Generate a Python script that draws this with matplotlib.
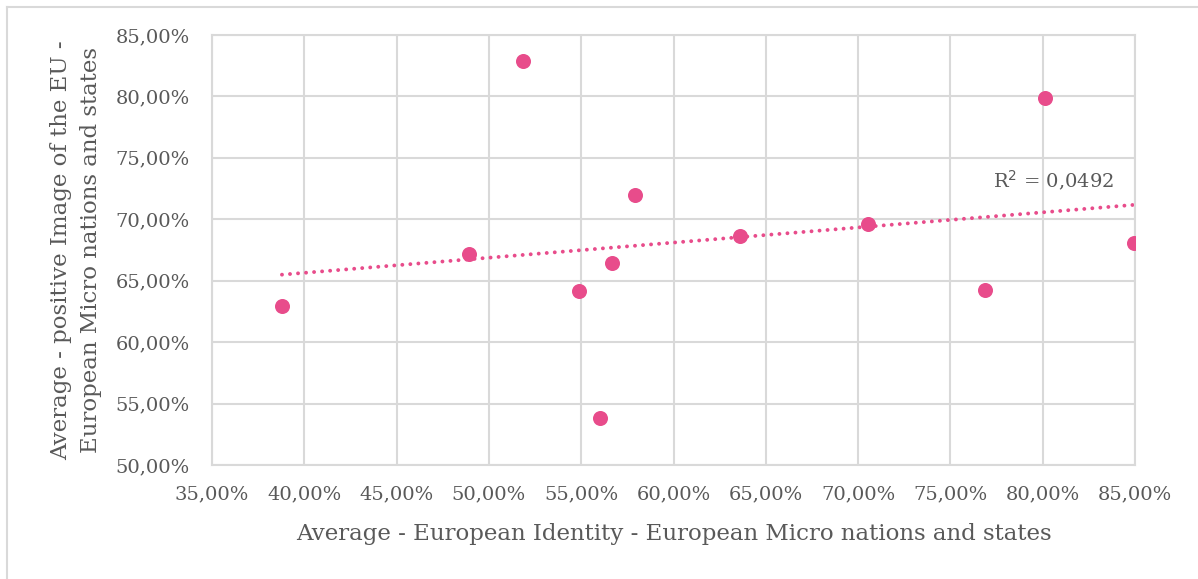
import matplotlib
matplotlib.use("Agg")
import matplotlib.pyplot as plt
import numpy as np
from matplotlib.ticker import MultipleLocator, FuncFormatter
from matplotlib.lines import Line2D

# Data (percent)
identity = [38.79, 48.92, 51.85, 54.88, 56.02, 56.67, 57.91, 63.60, 70.54, 76.87, 80.12, 84.95]
image_eu = [62.94, 67.17, 82.88, 64.16, 53.83, 66.44, 71.98, 68.64, 69.62, 64.24, 79.87, 68.07]
x_label = "Average - European Identity - European Micro nations and states"
y_label = "Average - positive Image of the EU -\nEuropean Micro nations and states"
r2_text = "R$^2$ = 0,0492"

PINK = "#E84C8B"
TEXT = "#595959"
GRID = "#D9D9D9"

plt.rcParams['font.family'] = ['DejaVu Serif']

fig = plt.figure(figsize=(11.98, 5.79), dpi=100)
ax = fig.add_axes([212/1198, 1-465/579, (1135-212)/1198, (465-35)/579])

x = np.array(identity)
y = np.array(image_eu)
ax.scatter(x, y, s=117, color=PINK, zorder=3, linewidths=0)

# Linear trendline
m, b = np.polyfit(x, y, 1)
xs = np.array([x.min(), x.max()])
ax.plot(xs, m*xs + b, color=PINK, lw=2.8, linestyle=(0, (0.01, 2.06)),
        dash_capstyle='round', zorder=2)

ax.text(80.6, 73.1, r2_text, fontsize=14, color=TEXT, ha='center', va='center')

ax.set_xlim(35, 85)
ax.set_ylim(50, 85)
ax.xaxis.set_major_locator(MultipleLocator(5))
ax.yaxis.set_major_locator(MultipleLocator(5))
fmt = FuncFormatter(lambda v, p: f"{v:.2f}".replace('.', ',') + "%")
ax.xaxis.set_major_formatter(fmt)
ax.yaxis.set_major_formatter(fmt)
ax.grid(True, color=GRID, lw=1.5, zorder=0)
ax.set_axisbelow(True)
for sp in ax.spines.values():
    sp.set_color(GRID)
    sp.set_linewidth(1.5)
ax.tick_params(axis='x', length=0, labelsize=14, colors=TEXT, pad=15)
ax.tick_params(axis='y', length=0, labelsize=14, colors=TEXT, pad=16)
ax.set_xlabel(x_label, fontsize=16.5, color=TEXT, labelpad=14)
ax.set_ylabel(y_label, fontsize=16.5, color=TEXT, labelpad=10, linespacing=1.45)

# figure border (top and left visible)
fig.add_artist(Line2D([7/1198, 1.0], [1-7/579, 1-7/579], transform=fig.transFigure, color=GRID, lw=1.5))
fig.add_artist(Line2D([7/1198, 7/1198], [0, 1-7/579], transform=fig.transFigure, color=GRID, lw=1.5))

fig.savefig("out.png", dpi=100, facecolor='white')
